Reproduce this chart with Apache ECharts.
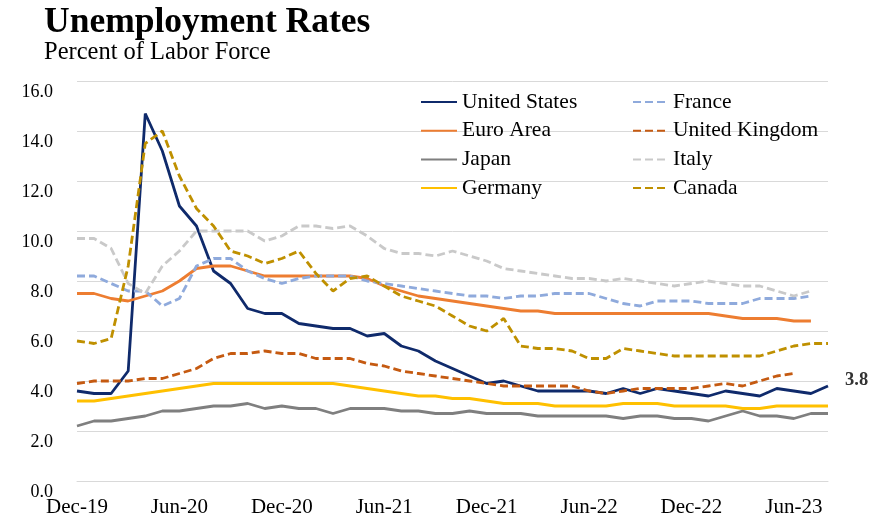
<!DOCTYPE html>
<html><head><meta charset="utf-8">
<script src="https://cdn.jsdelivr.net/npm/echarts@6/dist/echarts.min.js"></script>
<style>html,body{margin:0;padding:0;background:#fff}#c{width:885px;height:528px}</style>
</head><body><div id="c"></div>
<script>
const categories = ['Dec-19','Jan-20','Feb-20','Mar-20','Apr-20','May-20','Jun-20','Jul-20','Aug-20','Sep-20','Oct-20','Nov-20','Dec-20','Jan-21','Feb-21','Mar-21','Apr-21','May-21','Jun-21','Jul-21','Aug-21','Sep-21','Oct-21','Nov-21','Dec-21','Jan-22','Feb-22','Mar-22','Apr-22','May-22','Jun-22','Jul-22','Aug-22','Sep-22','Oct-22','Nov-22','Dec-22','Jan-23','Feb-23','Mar-23','Apr-23','May-23','Jun-23','Jul-23','Aug-23'];
const yTicks = [0,2,4,6,8,10,12,14,16];
const unitedStates = [3.6,3.5,3.5,4.4,14.7,13.2,11.0,10.2,8.4,7.9,6.9,6.7,6.7,6.3,6.2,6.1,6.1,5.8,5.9,5.4,5.2,4.8,4.5,4.2,3.9,4.0,3.8,3.6,3.6,3.6,3.6,3.5,3.7,3.5,3.7,3.6,3.5,3.4,3.6,3.5,3.4,3.7,3.6,3.5,3.8];
const euroArea = [7.5,7.5,7.3,7.2,7.4,7.6,8.0,8.5,8.6,8.6,8.4,8.2,8.2,8.2,8.2,8.2,8.2,8.1,7.8,7.6,7.4,7.3,7.2,7.1,7.0,6.9,6.8,6.8,6.7,6.7,6.7,6.7,6.7,6.7,6.7,6.7,6.7,6.7,6.6,6.5,6.5,6.5,6.4,6.4,null];
const japan = [2.2,2.4,2.4,2.5,2.6,2.8,2.8,2.9,3.0,3.0,3.1,2.9,3.0,2.9,2.9,2.7,2.9,2.9,2.9,2.8,2.8,2.7,2.7,2.8,2.7,2.7,2.7,2.6,2.6,2.6,2.6,2.6,2.5,2.6,2.6,2.5,2.5,2.4,2.6,2.8,2.6,2.6,2.5,2.7,2.7];
const germany = [3.2,3.2,3.3,3.4,3.5,3.6,3.7,3.8,3.9,3.9,3.9,3.9,3.9,3.9,3.9,3.9,3.8,3.7,3.6,3.5,3.4,3.4,3.3,3.3,3.2,3.1,3.1,3.1,3.0,3.0,3.0,3.0,3.1,3.1,3.1,3.0,3.0,3.0,3.0,2.9,2.9,3.0,3.0,3.0,3.0];
const france = [8.2,8.2,7.9,7.6,7.6,7.0,7.3,8.6,8.9,8.9,8.4,8.1,7.9,8.1,8.2,8.2,8.2,8.0,7.9,7.8,7.7,7.6,7.5,7.4,7.4,7.3,7.4,7.4,7.5,7.5,7.5,7.3,7.1,7.0,7.2,7.2,7.2,7.1,7.1,7.1,7.3,7.3,7.3,7.4,null];
const unitedKingdom = [3.9,4.0,4.0,4.0,4.1,4.1,4.3,4.5,4.9,5.1,5.1,5.2,5.1,5.1,4.9,4.9,4.9,4.7,4.6,4.4,4.3,4.2,4.1,4.0,3.9,3.8,3.8,3.8,3.8,3.8,3.6,3.5,3.6,3.7,3.7,3.7,3.7,3.8,3.9,3.8,4.0,4.2,4.3,null,null];
const italy = [9.7,9.7,9.3,7.9,7.5,8.6,9.2,10.0,10.0,10.0,10.0,9.6,9.8,10.2,10.2,10.1,10.2,9.8,9.3,9.1,9.1,9.0,9.2,9.0,8.8,8.5,8.4,8.3,8.2,8.1,8.1,8.0,8.1,8.0,7.9,7.8,7.9,8.0,7.9,7.8,7.8,7.6,7.4,7.6,null];
const canada = [5.6,5.5,5.7,8.6,13.5,14.0,12.2,10.9,10.2,9.2,9.0,8.7,8.9,9.2,8.3,7.6,8.1,8.2,7.8,7.4,7.2,7.0,6.6,6.2,6.0,6.5,5.4,5.3,5.3,5.2,4.9,4.9,5.3,5.2,5.1,5.0,5.0,5.0,5.0,5.0,5.0,5.2,5.4,5.5,5.5];

const serif = '"Liberation Serif","Times New Roman",serif';
const dash = [8,4];
function mk(name, data, color, dashed, extra) {
  return Object.assign({
    name, type: 'line', data, symbol: 'none', showSymbol: false,
    connectNulls: false,
    lineStyle: { color, width: 2.8, type: dashed ? dash : 'solid', cap: 'butt' },
    itemStyle: { color },
    emphasis: { disabled: true }
  }, extra || {});
}
const chart = echarts.init(document.getElementById('c'), null, { renderer: 'canvas' });
const legendText = { fontFamily: serif, fontSize: 21.5, color: '#000', lineHeight: 22 };
const legendCommon = { orient: 'vertical', top: 86, itemHeight: 14, itemGap: 6.7,
  textStyle: legendText, selectedMode: false,
  itemStyle: { opacity: 0, borderWidth: 0 } };
chart.setOption({
  animation: false,
  backgroundColor: '#fff',
  title: {
    text: 'Unemployment Rates',
    subtext: 'Percent of Labor Force',
    left: 39, top: 0, itemGap: -1,
    textStyle: { fontFamily: serif, fontSize: 35.5, fontWeight: 'bold', color: '#000' },
    subtextStyle: { fontFamily: serif, fontSize: 24.5, color: '#000' }
  },
  legend: [
    Object.assign({ data: ['United States','Euro Area','Japan','Germany'], left: 415, itemWidth: 36 }, legendCommon),
    Object.assign({ data: ['France','United Kingdom','Italy','Canada'], left: 627, itemWidth: 35 }, legendCommon)
  ],
  grid: { left: 77, right: 57, top: 81, bottom: 47, containLabel: false },
  xAxis: {
    type: 'category', data: categories, boundaryGap: false,
    axisLine: { show: true, lineStyle: { color: '#d9d9d9', width: 1 } },
    axisTick: { show: false },
    axisLabel: { interval: 5, fontFamily: serif, fontSize: 21, color: '#000', margin: 16 },
    splitLine: { show: false }
  },
  yAxis: {
    type: 'value', min: yTicks[0], max: yTicks[yTicks.length - 1], interval: 2,
    axisLine: { show: false }, axisTick: { show: false },
    axisLabel: { formatter: v => v.toFixed(1), fontFamily: serif, fontSize: 18, color: '#000', margin: 24,
      verticalAlign: 'top', padding: [2, 0, 0, 0] },
    splitLine: { lineStyle: { color: '#d9d9d9', width: 1 } }
  },
  series: [
    mk('United States', unitedStates, '#0f2a6b', false, {
      endLabel: { show: true, formatter: p => Number(p.value).toFixed(1), distance: 17, offset: [0, -6],
        fontFamily: serif, fontSize: 18.5, fontWeight: 'bold', color: '#333' }
    }),
    mk('Euro Area', euroArea, '#ed7d31', false),
    mk('Japan', japan, '#7f7f7f', false),
    mk('Germany', germany, '#ffc000', false),
    mk('France', france, '#8faadc', true),
    mk('United Kingdom', unitedKingdom, '#c55a11', true),
    mk('Italy', italy, '#c9c9c9', true),
    mk('Canada', canada, '#bf9000', true)
  ]
});
</script></body></html>
